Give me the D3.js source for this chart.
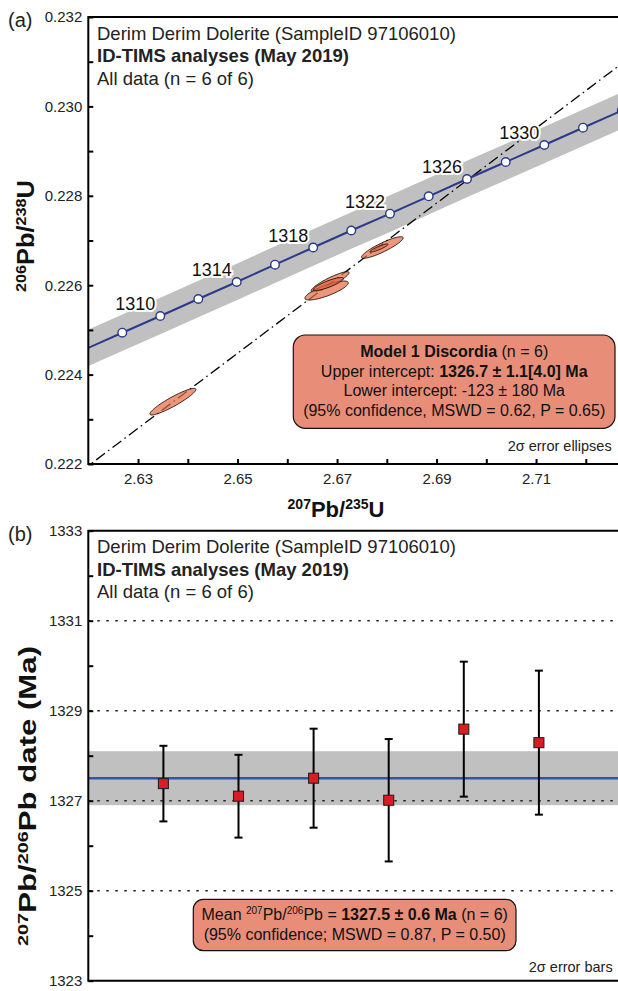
<!DOCTYPE html>
<html><head><meta charset="utf-8">
<script src="https://cdn.jsdelivr.net/npm/d3@7"></script>
<style>
body{margin:0;background:#fff}
svg{display:block;font-family:"Liberation Sans",Arial,Helvetica,sans-serif}
</style>
</head><body>
<svg id="chart" width="618" height="991"></svg>
<script>
// ---------- Panel (a): concordia diagram data ----------
const concAges = [1306,1308,1310,1312,1314,1316,1318,1320,1322,1324,1326,1328,1330,1332,1334];
const concX = [2.61911,2.62683,2.63447,2.64211,2.64983,2.65753,2.66521,2.67286,2.68064,2.68842,2.69612,2.70390,2.71166,2.71944,2.72722];
const concY = [0.224554,0.224937,0.225311,0.225691,0.226072,0.226459,0.226843,0.227224,0.227600,0.227989,0.228376,0.228756,0.229136,0.229523,0.229906];
const concLabelAges = [1310,1314,1318,1322,1326,1330];
const concBandHalf = 0.00041;

const ellX   = [2.6370, 2.6686, 2.6679, 2.66828, 2.6791, 2.67843];
const ellY   = [0.223394, 0.226078, 0.225881, 0.226027, 0.226843, 0.226832];
const ellSx  = [0.00462, 0.00382, 0.00436, 0.00302, 0.00418, 0.00181];
const ellSy  = [0.000298, 0.000224, 0.000213, 0.000145, 0.000242, 0.000090];
const ellRho = [0.92, 0.90, 0.80, 0.85, 0.89, 0.90];

const discordiaX = [2.615, 2.73];
const discordiaY = [0.221540, 0.231191];

const xMajorA = [2.63, 2.65, 2.67, 2.69, 2.71];
const xMinorA = [2.64, 2.66, 2.68, 2.70, 2.72];
const yMajorA = [0.222, 0.224, 0.226, 0.228, 0.230, 0.232];
const yMinorA = [0.223, 0.225, 0.227, 0.229, 0.231];

// ---------- Panel (b): weighted mean data ----------
const analyses = [1, 2, 3, 4, 5, 6];
const dates = [1327.38, 1327.10, 1327.50, 1327.01, 1328.59, 1328.29];
const dateErr = [0.84, 0.92, 1.10, 1.36, 1.50, 1.60];
const meanDate = 1327.5;
const meanErr = 0.6;
const yMajorB = [1323, 1325, 1327, 1329, 1331, 1333];
const yMinorB = [1324, 1326, 1328, 1330, 1332];
const yGridB = [1325, 1327, 1329, 1331];

const svg = d3.select("#chart");
const FR = 640; // frame right (beyond view, chart is cropped)

// ====================== PANEL A ======================
const xA = d3.scaleLinear().domain([2.62, 2.72]).range([88.3, 585.8]);
const yA = d3.scaleLinear().domain([0.222, 0.232]).range([464, 17]);

svg.append("clipPath").attr("id","clipA").append("rect")
  .attr("x", xA(2.62)).attr("y", yA(0.232)).attr("width", FR - xA(2.62)).attr("height", yA(0.222) - yA(0.232));

const gA = svg.append("g").attr("clip-path","url(#clipA)");
const conc = concAges.map((a,i)=>({age:a, x:concX[i], y:concY[i]}));

gA.append("path").datum(conc)
  .attr("fill","#c0c0c0")
  .attr("d", d3.area().x(d=>xA(d.x)).y0(d=>yA(d.y - concBandHalf)).y1(d=>yA(d.y + concBandHalf)));

gA.append("path").datum(discordiaX.map((x,i)=>[x, discordiaY[i]]))
  .attr("fill","none").attr("stroke","#000").attr("stroke-width",1.3)
  .attr("stroke-dasharray","11,4,1.5,4")
  .attr("d", d3.line().x(d=>xA(d[0])).y(d=>yA(d[1])));

const ellData = ellX.map((x,i)=>({x, y:ellY[i], sx:ellSx[i], sy:ellSy[i], r:ellRho[i]}));
const ellLine = d3.line().x(d=>xA(d[0])).y(d=>yA(d[1])).curve(d3.curveLinearClosed);
gA.selectAll("path.ell").data(ellData).join("path").attr("class","ell")
  .attr("fill","rgb(228,105,69)").attr("fill-opacity",0.7)
  .attr("stroke","#000").attr("stroke-width",0.8)
  .attr("d", e => ellLine(d3.range(0, 360, 4).map(a => {
      const t = a * Math.PI / 180;
      return [e.x + e.sx*Math.cos(t), e.y + e.sy*(e.r*Math.cos(t) + Math.sqrt(1-e.r*e.r)*Math.sin(t))];
  })));

gA.append("path").datum(conc)
  .attr("fill","none").attr("stroke","#2b3a8c").attr("stroke-width",2)
  .attr("d", d3.line().x(d=>xA(d.x)).y(d=>yA(d.y)));

gA.selectAll("circle.cp").data(conc).join("circle").attr("class","cp")
  .attr("cx", d=>xA(d.x)).attr("cy", d=>yA(d.y)).attr("r",4.3)
  .attr("fill","#fff").attr("stroke","#2b3a8c").attr("stroke-width",1.4);

gA.selectAll("text.cl").data(conc.filter(d=>concLabelAges.includes(d.age))).join("text").attr("class","cl")
  .attr("x", d=>xA(d.x) - 25).attr("y", d=>yA(d.y) - 6)
  .attr("text-anchor","middle").attr("font-size",18).attr("fill","#111")
  .attr("stroke","#fff").attr("stroke-width",4).attr("paint-order","stroke")
  .text(d=>d.age);

// axes A
function styleAxis(g){
  g.select(".domain").remove();
  g.selectAll(".tick line").attr("stroke","#000").attr("stroke-width",2);
  g.selectAll(".tick text").attr("font-size",15).attr("fill","#222").attr("font-family","Liberation Sans, Arial, sans-serif");
}
svg.append("g").attr("transform",`translate(${xA(2.62)},0)`)
  .call(d3.axisLeft(yA).tickValues(yMajorA).tickFormat(d3.format(".3f")).tickSize(-5).tickPadding(6)).call(styleAxis);
svg.append("g").attr("transform",`translate(${xA(2.62)},0)`)
  .call(d3.axisLeft(yA).tickValues(yMinorA).tickFormat("").tickSize(-5)).call(styleAxis);
svg.append("g").attr("transform",`translate(0,${yA(0.222)})`)
  .call(d3.axisBottom(xA).tickValues(xMajorA).tickFormat(d3.format(".2f")).tickSize(-5).tickPadding(9)).call(styleAxis);
svg.append("g").attr("transform",`translate(0,${yA(0.222)})`)
  .call(d3.axisBottom(xA).tickValues(xMinorA).tickFormat("").tickSize(-5)).call(styleAxis);

svg.append("path").attr("fill","none").attr("stroke","#000").attr("stroke-width",2).attr("stroke-linecap","square")
  .attr("d", `M${FR},${yA(0.232)}H${xA(2.62)}V${yA(0.222)}H${FR}`);

// header text
function header(y0){
  const t = svg.append("g").attr("font-size",18.5).attr("fill","#222");
  t.append("text").attr("x",97).attr("y",y0+22.5).text("Derim Derim Dolerite (SampleID 97106010)");
  t.append("text").attr("x",97).attr("y",y0+45).attr("font-weight","bold").text("ID-TIMS analyses (May 2019)");
  t.append("text").attr("x",97).attr("y",y0+67.5).text("All data (n = 6 of 6)");
}
header(yA(0.232));
svg.append("text").attr("x",8).attr("y",27).attr("font-size",20).attr("fill","#222").text("(a)");

// Discordia box
const boxA = svg.append("g");
boxA.append("rect").attr("x",293.3).attr("y",335).attr("width",321.7).attr("height",93.3).attr("rx",12)
  .attr("fill","#e88e78").attr("stroke","#111").attr("stroke-width",1.2);
const bt = boxA.append("text").attr("text-anchor","middle").attr("font-size",16).attr("fill","#111");
let l = bt.append("tspan").attr("x",454.2).attr("y",357);
l.append("tspan").attr("font-weight","bold").text("Model 1 Discordia");
l.append("tspan").text(" (n = 6)");
l = bt.append("tspan").attr("x",454.2).attr("y",376.5);
l.append("tspan").text("Upper intercept: ");
l.append("tspan").attr("font-weight","bold").text("1326.7 ± 1.1[4.0] Ma");
bt.append("tspan").attr("x",454.2).attr("y",396).text("Lower intercept: -123 ± 180 Ma");
bt.append("tspan").attr("x",454.2).attr("y",415.5).text("(95% confidence, MSWD = 0.62, P = 0.65)");

svg.append("text").attr("x",611.7).attr("y",451).attr("text-anchor","end").attr("font-size",14.5).attr("fill","#222").text("2σ error ellipses");

// axis titles
function ratioTitle(sel, fs, ss, a, b, c, d){
  sel.attr("font-weight","bold").attr("font-size",fs).attr("fill","#111");
  sel.append("tspan").attr("font-size",ss).attr("dy",-8).text(a);
  sel.append("tspan").attr("dy",8).text(b);
  sel.append("tspan").attr("font-size",ss).attr("dy",-8).text(c);
  sel.append("tspan").attr("dy",8).text(d);
}
ratioTitle(svg.append("text").attr("x",336).attr("y",517).attr("text-anchor","middle"), 22, 14, "207","Pb/","235","U");
ratioTitle(svg.append("text").attr("transform","translate(34,236) rotate(-90)").attr("text-anchor","middle")
  .attr("textLength",112).attr("lengthAdjust","spacingAndGlyphs"), 23.5, 15, "206","Pb/","238","U");

// ====================== PANEL B ======================
const xB = d3.scaleLinear().domain([0, 7]).range([88.3, 614]);
const yB = d3.scaleLinear().domain([1323, 1333]).range([980.7, 530.7]);

svg.append("rect").attr("x",xB(0)).attr("y",yB(meanDate+meanErr))
  .attr("width",FR - xB(0)).attr("height",yB(meanDate-meanErr)-yB(meanDate+meanErr)).attr("fill","#c0c0c0");

svg.selectAll("line.grid").data(yGridB).join("line").attr("class","grid")
  .attr("x1",xB(0)).attr("x2",FR).attr("y1",d=>yB(d)).attr("y2",d=>yB(d))
  .attr("stroke","#222").attr("stroke-width",1.5).attr("stroke-dasharray","2.5,6.5");

svg.append("line").attr("x1",xB(0)).attr("x2",FR).attr("y1",yB(meanDate)).attr("y2",yB(meanDate))
  .attr("stroke","#3353a4").attr("stroke-width",2.6);

const pts = analyses.map((a,i)=>({a, v:dates[i], e:dateErr[i]}));
const eb = svg.append("g").attr("stroke","#000").attr("stroke-width",2);
eb.selectAll("line.v").data(pts).join("line").attr("class","v")
  .attr("x1",d=>xB(d.a)).attr("x2",d=>xB(d.a)).attr("y1",d=>yB(d.v-d.e)).attr("y2",d=>yB(d.v+d.e));
eb.selectAll("line.t").data(pts).join("line").attr("class","t")
  .attr("x1",d=>xB(d.a)-4).attr("x2",d=>xB(d.a)+4).attr("y1",d=>yB(d.v+d.e)).attr("y2",d=>yB(d.v+d.e));
eb.selectAll("line.b").data(pts).join("line").attr("class","b")
  .attr("x1",d=>xB(d.a)-4).attr("x2",d=>xB(d.a)+4).attr("y1",d=>yB(d.v-d.e)).attr("y2",d=>yB(d.v-d.e));
svg.selectAll("rect.sq").data(pts).join("rect").attr("class","sq")
  .attr("x",d=>xB(d.a)-5).attr("y",d=>yB(d.v)-5).attr("width",10).attr("height",10)
  .attr("fill","#dd1c22").attr("stroke","#222").attr("stroke-width",1.1);

svg.append("g").attr("transform",`translate(${xB(0)},0)`)
  .call(d3.axisLeft(yB).tickValues(yMajorB).tickFormat(d3.format("d")).tickSize(-5).tickPadding(6)).call(styleAxis);
svg.append("g").attr("transform",`translate(${xB(0)},0)`)
  .call(d3.axisLeft(yB).tickValues(yMinorB).tickFormat("").tickSize(-5)).call(styleAxis);

svg.append("path").attr("fill","none").attr("stroke","#000").attr("stroke-width",2).attr("stroke-linecap","square")
  .attr("d", `M${FR},${yB(1333)}H${xB(0)}V${yB(1323)}H${FR}`);

header(yB(1333));
svg.append("text").attr("x",8).attr("y",541).attr("font-size",20).attr("fill","#222").text("(b)");

// mean box
const boxB = svg.append("g");
boxB.append("rect").attr("x",193.3).attr("y",899.3).attr("width",322.7).attr("height",51.4).attr("rx",10)
  .attr("fill","#e88e78").attr("stroke","#111").attr("stroke-width",1.2);
const mt = boxB.append("text").attr("text-anchor","middle").attr("font-size",16).attr("fill","#111");
l = mt.append("tspan").attr("x",354.7).attr("y",920);
l.append("tspan").text("Mean ");
l.append("tspan").attr("font-size",10).attr("dy",-6).text("207");
l.append("tspan").attr("dy",6).text("Pb/");
l.append("tspan").attr("font-size",10).attr("dy",-6).text("206");
l.append("tspan").attr("dy",6).text("Pb = ");
l.append("tspan").attr("font-weight","bold").text("1327.5 ± 0.6 Ma");
l.append("tspan").text(" (n = 6)");
mt.append("tspan").attr("x",354.7).attr("y",939.5).text("(95% confidence; MSWD = 0.87, P = 0.50)");

svg.append("text").attr("x",612.7).attr("y",971.7).attr("text-anchor","end").attr("font-size",14.5).attr("fill","#222").text("2σ error bars");

// y title B
const tB = svg.append("text").attr("transform","translate(36,796) rotate(-90)").attr("text-anchor","middle")
  .attr("textLength",300).attr("lengthAdjust","spacingAndGlyphs");
ratioTitle(tB, 23.5, 15, "207","Pb/","206","Pb date (Ma)");
</script>
</body></html>
